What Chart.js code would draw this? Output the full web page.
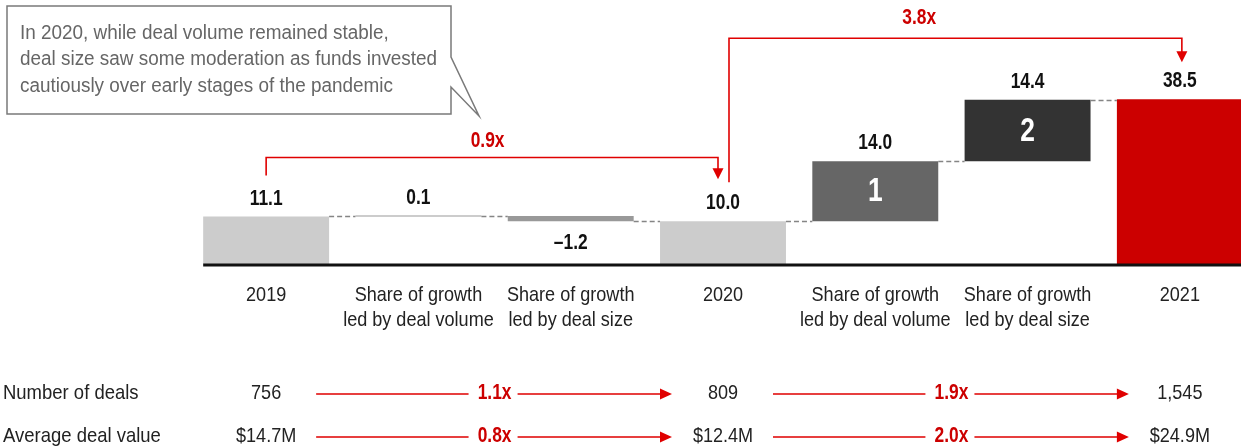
<!DOCTYPE html>
<html>
<head>
<meta charset="utf-8">
<script src="https://cdn.jsdelivr.net/npm/chart.js@4.4.0/dist/chart.umd.min.js"></script>
<style>
  html, body { margin: 0; padding: 0; background: #fff; overflow: hidden; }
  #wrap { width: 1280px; height: 448px; }
</style>
</head>
<body>
<div id="wrap"><canvas id="waterfall" width="1280" height="448"></canvas></div>
<script>
// waterfall steps: totals start from zero, the others float on the running total
const categories = [
  ['2019'],
  ['Share of growth', 'led by deal volume'],
  ['Share of growth', 'led by deal size'],
  ['2020'],
  ['Share of growth', 'led by deal volume'],
  ['Share of growth', 'led by deal size'],
  ['2021']
];
const barValues = [11.1, 0.1, -1.2, 10.0, 14.0, 14.4, 38.5];
const isTotal = [true, false, false, true, false, false, true];
const barColors = ['#cccccc', '#999999', '#999999', '#cccccc', '#666666', '#333333', '#cc0000'];
const stepMarks = ['', '', '', '', '1', '2', ''];

// table under the chart (only the year columns carry values)
const yearColumns = [0, 3, 6];
const dealCounts = ['756', '809', '1,545'];
const avgDealValues = ['$14.7M', '$12.4M', '$24.9M'];
const countMultiples = ['1.1x', '1.9x'];
const valueMultiples = ['0.8x', '2.0x'];
const totalMultiples = ['0.9x', '3.8x'];

const calloutLines = [
  'In 2020, while deal volume remained stable,',
  'deal size saw some moderation as funds invested',
  'cautiously over early stages of the pandemic'
];

const RED = '#cc0000';
const LINE_RED = '#e00000';
const FONT = '"Liberation Sans", Arial, sans-serif';

// floating ranges + running level after each bar
const ranges = [];
const levels = [];
let running = 0;
barValues.forEach((v, i) => {
  if (isTotal[i]) {
    ranges.push([0, v]);
    running = v;
  } else {
    ranges.push([running, running + v]);
    running += v;
  }
  levels.push(running);
});

function fmt(v) {
  const s = Math.abs(v).toFixed(1);
  return v < 0 ? '\u2013' + s : s;
}

// narrow-looking text: squeeze a normal face horizontally
function text(ctx, str, x, y, opt) {
  const o = Object.assign({ size: 21, bold: false, color: '#222', align: 'center', sx: 0.86 }, opt);
  ctx.save();
  ctx.translate(x, y);
  ctx.scale(o.sx, 1);
  ctx.font = (o.bold ? 'bold ' : '') + o.size + 'px ' + FONT;
  ctx.fillStyle = o.color;
  ctx.textAlign = o.align;
  ctx.textBaseline = 'middle';
  ctx.fillText(str, 0, 0);
  ctx.restore();
}

const LABEL = { size: 22, bold: true, color: '#111', sx: 0.79 };
const MULT = { size: 22, bold: true, color: RED, sx: 0.79 };

function arrowDown(ctx, x, tipY) {
  ctx.beginPath();
  ctx.moveTo(x - 5.5, tipY - 11);
  ctx.lineTo(x + 5.5, tipY - 11);
  ctx.lineTo(x, tipY);
  ctx.closePath();
  ctx.fill();
}

function arrowRight(ctx, tipX, y) {
  ctx.beginPath();
  ctx.moveTo(tipX - 12, y - 5.5);
  ctx.lineTo(tipX - 12, y + 5.5);
  ctx.lineTo(tipX, y);
  ctx.closePath();
  ctx.fill();
}

const overlay = {
  id: 'waterfallOverlay',
  afterDatasetsDraw(chart) {
    const ctx = chart.ctx;
    const x = chart.scales.x;
    const y = chart.scales.y;
    const bars = chart.getDatasetMeta(0).data;
    const cx = i => x.getPixelForValue(i);
    const half = bars[0].width / 2;
    const topOf = i => y.getPixelForValue(Math.max(ranges[i][0], ranges[i][1]));
    const bottomOf = i => y.getPixelForValue(Math.min(ranges[i][0], ranges[i][1]));
    const y0 = y.getPixelForValue(0);

    ctx.save();

    // baseline
    ctx.strokeStyle = '#111';
    ctx.lineWidth = 3;
    ctx.beginPath();
    ctx.moveTo(cx(0) - half, y0 + 1);
    ctx.lineTo(chart.width, y0 + 1);
    ctx.stroke();

    // dashed connectors between bars
    ctx.strokeStyle = '#858585';
    ctx.lineWidth = 1.3;
    ctx.setLineDash([5, 3]);
    for (let i = 0; i < bars.length - 1; i++) {
      const ly = Math.round(y.getPixelForValue(levels[i])) + 0.5;
      ctx.beginPath();
      ctx.moveTo(cx(i) + half, ly);
      ctx.lineTo(cx(i + 1) - half, ly);
      ctx.stroke();
    }
    ctx.setLineDash([]);

    // value labels
    barValues.forEach((v, i) => {
      const ly = v < 0 ? bottomOf(i) + 22 : topOf(i) - 18;
      text(ctx, fmt(v), cx(i), ly, LABEL);
    });

    // step numbers inside bars
    stepMarks.forEach((m, i) => {
      if (!m) return;
      text(ctx, m, cx(i), (topOf(i) + bottomOf(i)) / 2 + 1, { size: 33, bold: true, color: '#fff', sx: 0.8 });
    });

    // category labels
    categories.forEach((lines, i) => {
      lines.forEach((t, k) => text(ctx, t, cx(i), y0 + 31 + k * 25));
    });

    // growth brackets between totals
    ctx.strokeStyle = LINE_RED;
    ctx.fillStyle = LINE_RED;
    ctx.lineWidth = 1.6;
    const a0 = cx(0), a1 = cx(3) - 5;
    const aTop = topOf(0) - 59;
    ctx.beginPath();
    ctx.moveTo(a0, topOf(0) - 41);
    ctx.lineTo(a0, aTop);
    ctx.lineTo(a1, aTop);
    ctx.lineTo(a1, topOf(3) - 52);
    ctx.stroke();
    arrowDown(ctx, a1, topOf(3) - 42);

    const b0 = cx(3) + 6, b1 = cx(6) + 2;
    const bTop = topOf(6) - 61;
    ctx.beginPath();
    ctx.moveTo(b0, topOf(3) - 39);
    ctx.lineTo(b0, bTop);
    ctx.lineTo(b1, bTop);
    ctx.lineTo(b1, topOf(6) - 47);
    ctx.stroke();
    arrowDown(ctx, b1, topOf(6) - 37);

    text(ctx, totalMultiples[0], a0 + (a1 - a0) * 0.49, aTop - 17, MULT);
    text(ctx, totalMultiples[1], b0 + (b1 - b0) * 0.42, bTop - 20, MULT);

    // callout box with tail
    ctx.strokeStyle = '#7a7a7a';
    ctx.lineWidth = 1.5;
    ctx.beginPath();
    ctx.moveTo(7, 6);
    ctx.lineTo(451, 6);
    ctx.lineTo(451, 57);
    ctx.lineTo(479, 116);
    ctx.lineTo(451, 87);
    ctx.lineTo(451, 114);
    ctx.lineTo(7, 114);
    ctx.closePath();
    ctx.stroke();
    calloutLines.forEach((t, k) =>
      text(ctx, t, 20, 33 + k * 26.5, { size: 20, color: '#666', align: 'left', sx: 0.945 }));

    // deal table
    const rows = [
      { title: 'Number of deals', y: 393, vals: dealCounts, mult: countMultiples },
      { title: 'Average deal value', y: 436, vals: avgDealValues, mult: valueMultiples }
    ];
    rows.forEach(r => {
      text(ctx, r.title, 3, r.y, { align: 'left', sx: 0.88 });
      yearColumns.forEach((c, k) => text(ctx, r.vals[k], cx(c), r.y));
      for (let k = 0; k < yearColumns.length - 1; k++) {
        const from = cx(yearColumns[k]) + 50;
        const to = cx(yearColumns[k + 1]) - 51;
        const mid = (cx(yearColumns[k]) + cx(yearColumns[k + 1])) / 2;
        const ly = r.y + 1;
        ctx.strokeStyle = LINE_RED;
        ctx.fillStyle = LINE_RED;
        ctx.lineWidth = 1.6;
        ctx.beginPath();
        ctx.moveTo(from, ly);
        ctx.lineTo(mid - 26, ly);
        ctx.moveTo(mid + 23, ly);
        ctx.lineTo(to - 10, ly);
        ctx.stroke();
        arrowRight(ctx, to, ly);
        text(ctx, r.mult[k], mid, r.y, MULT);
      }
    });

    ctx.restore();
  }
};

new Chart(document.getElementById('waterfall').getContext('2d'), {
  type: 'bar',
  data: {
    labels: categories,
    datasets: [{
      data: ranges,
      backgroundColor: barColors,
      borderWidth: 0,
      minBarLength: 1,
      categoryPercentage: 1.0,
      barPercentage: 0.827
    }]
  },
  options: {
    responsive: false,
    animation: false,
    devicePixelRatio: 1,
    layout: { padding: { left: 190, right: 24, top: 50, bottom: 184 } },
    plugins: {
      legend: { display: false },
      tooltip: { enabled: false }
    },
    scales: {
      x: { display: false, grid: { display: false } },
      y: { display: false, min: 0, max: 50 }
    }
  },
  plugins: [overlay]
});
</script>
</body>
</html>
